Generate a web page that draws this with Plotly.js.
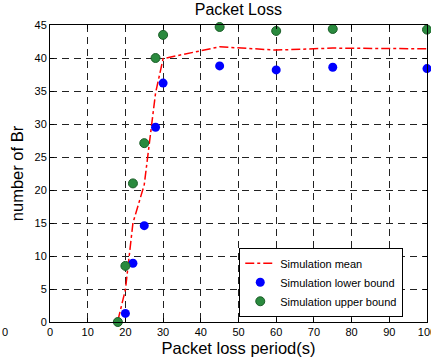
<!DOCTYPE html>
<html><head><meta charset="utf-8">
<script src="https://cdn.plot.ly/plotly-3.0.1.min.js"></script>
<style>html,body{margin:0;padding:0;background:#fff}#c{width:431px;height:364px}</style>
</head><body><div id="c"></div>
<script>
const periods = [18, 20, 22, 25, 28, 30, 45, 60, 75, 100];
const meanVals = [0.2, 4.9, 15.0, 20.8, 34.7, 39.9, 41.7, 41.2, 41.5, 41.4];
const lowerX = [20, 22, 25, 28, 30, 45, 60, 75, 100];
const lowerVals = [1.3, 8.9, 14.6, 29.5, 36.2, 38.8, 38.2, 38.6, 38.4];
const upperX = [18, 20, 22, 25, 28, 30, 45, 60, 75, 100];
const upperVals = [0, 8.5, 21.0, 27.1, 40.0, 43.5, 44.7, 44.1, 44.4, 44.3];
const xTicks = [0,10,20,30,40,50,60,70,80,90,100];
const yTicks = [0,5,10,15,20,25,30,35,40,45];

const FONT = 'Liberation Sans, Arial, sans-serif';
const traces = [
  {x: periods, y: meanVals, mode:'lines', name:'Simulation mean',
   line:{color:'#ff0000', width:1.5, dash:'dashdot'}},
  {x: lowerX, y: lowerVals, mode:'markers', name:'Simulation lower bound', cliponaxis:false,
   marker:{color:'#0000ff', size:9, line:{width:0}}},
  {x: upperX, y: upperVals, mode:'markers', name:'Simulation upper bound', cliponaxis:false,
   marker:{color:'#2a8a3e', size:9, line:{color:'#1b5e28', width:1}}}
];
const axisCommon = {
  showline:true, linecolor:'#000', linewidth:1, mirror:'ticks',
  ticks:'inside', ticklen:4, tickcolor:'#000',
  showgrid:true, gridcolor:'#222', gridwidth:1, griddash:'7px,5px',
  zeroline:false, ticklabeloverflow:'allow', tickfont:{family:FONT, size:11, color:'#000'}
};
const layout = {
  width:431, height:364,
  margin:{l:50, r:4, t:25, b:42},
  paper_bgcolor:'#fff', plot_bgcolor:'#fff',
  title:{text:'Packet Loss', font:{family:FONT, size:16, color:'#000'}, x:0.553, xanchor:'center', y:0.99, yanchor:'top'},
  xaxis:Object.assign({}, axisCommon, {range:[0,100], tickvals:xTicks, ticktext:xTicks.map(String),
    title:{text:'Packet loss period(s)', font:{family:FONT, size:16.5, color:'#000'}, standoff:5}}),
  yaxis:Object.assign({}, axisCommon, {range:[0,45], tickvals:yTicks, ticktext:yTicks.map(String),
    title:{text:'number of Br', font:{family:FONT, size:16.5, color:'#000'}, standoff:6}}),
  showlegend:true,
  legend:{x:0.502, y:0.25, xanchor:'left', yanchor:'top', bgcolor:'#fff', bordercolor:'#000', borderwidth:1,
    font:{family:FONT, size:11, color:'#000'}, tracegroupgap:0, itemwidth:30},
  annotations:[{text:'0', xref:'paper', yref:'paper', x:-0.12, y:0, xanchor:'center', yanchor:'top', yshift:-2,
    showarrow:false, font:{family:FONT, size:11, color:'#000'}}]
};
Plotly.newPlot('c', traces, layout, {displayModeBar:false, staticPlot:true});
</script></body></html>
